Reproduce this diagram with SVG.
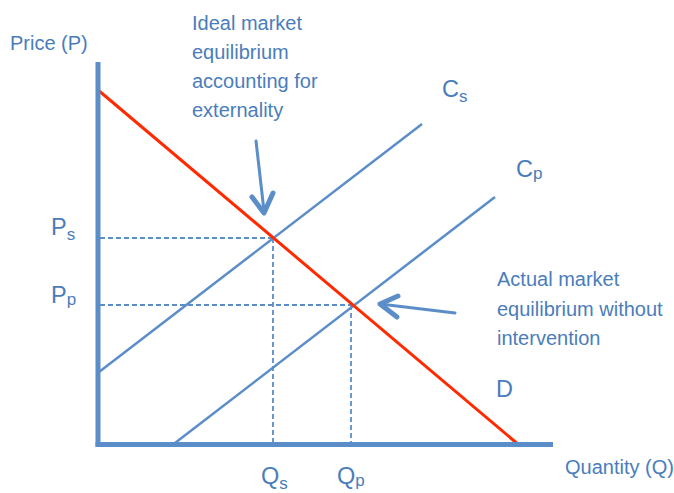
<svg xmlns="http://www.w3.org/2000/svg" width="674" height="493" viewBox="0 0 674 493">
<style>
.t{font-family:"Liberation Sans",Arial,sans-serif;fill:#4a7dbb}
.m{font-size:20px}
.b{font-size:23.5px}
.s{font-size:17px}
.axis{stroke:#5b8dc8;stroke-width:5;fill:none}
.sup{stroke:#5b8dc8;stroke-width:2.5;fill:none}
.dem{stroke:#ff2a00;stroke-width:3;fill:none}
.dash{stroke:#5b8dc8;stroke-width:1.8;stroke-dasharray:5 3;fill:none}
.arr{stroke:#5b8dc8;stroke-width:3;fill:none;stroke-linecap:round}
.head{stroke:#5b8dc8;stroke-width:5;fill:none;stroke-linecap:round;stroke-linejoin:round}
</style>
<rect width="674" height="493" fill="#ffffff"/>
<g id="connectors">
<line class="dash" x1="100" y1="238" x2="273" y2="238"/>
<line class="dash" x1="100" y1="305" x2="351" y2="305"/>
<line class="dash" x1="273" y1="238" x2="273" y2="442"/>
<line class="dash" x1="351" y1="305" x2="351" y2="442"/>
<line class="sup" x1="99" y1="372" x2="422" y2="124"/>
<line class="sup" x1="175" y1="443" x2="495" y2="197"/>
<line class="dem" x1="98" y1="90" x2="519" y2="445"/>
<line class="axis" x1="98" y1="62" x2="98" y2="446.5"/>
<line class="axis" x1="95.5" y1="444.5" x2="553" y2="444.5"/>
<line class="arr" x1="256" y1="141" x2="264" y2="211"/>
<polyline class="head" points="252,197 264,213 273,193"/>
<line class="arr" x1="455" y1="313" x2="380" y2="304"/>
<polyline class="head" points="398,296 380,304 397,317"/>
</g>
<g id="axis-labels">
<text class="t m" x="10" y="50">Price (P)</text>
<text class="t m" x="565" y="474">Quantity (Q)</text>
</g>
<g id="ideal-label">
<text class="t m" x="192" y="30">Ideal market</text>
<text class="t m" x="192" y="59">equilibrium</text>
<text class="t m" x="192" y="88">accounting for</text>
<text class="t m" x="192" y="117">externality</text>
</g>
<g id="actual-label">
<text class="t m" x="497" y="286">Actual market</text>
<text class="t m" x="497" y="316">equilibrium without</text>
<text class="t m" x="497" y="345">intervention</text>
</g>
<g id="curve-labels">
<text class="t b" x="442" y="97">C<tspan class="s" dy="5">s</tspan></text>
<text class="t b" x="516" y="177">C<tspan class="s" dy="2">p</tspan></text>
<text class="t b" x="496" y="397">D</text>
</g>
<g id="price-labels">
<text class="t b" x="51" y="235">P<tspan class="s" dy="5">s</tspan></text>
<text class="t b" x="51" y="303">P<tspan class="s" dy="2">p</tspan></text>
</g>
<g id="quantity-labels">
<text class="t b" x="261" y="484">Q<tspan class="s" dy="5">s</tspan></text>
<text class="t b" x="337" y="484">Q<tspan class="s" dy="2">p</tspan></text>
</g>
</svg>
